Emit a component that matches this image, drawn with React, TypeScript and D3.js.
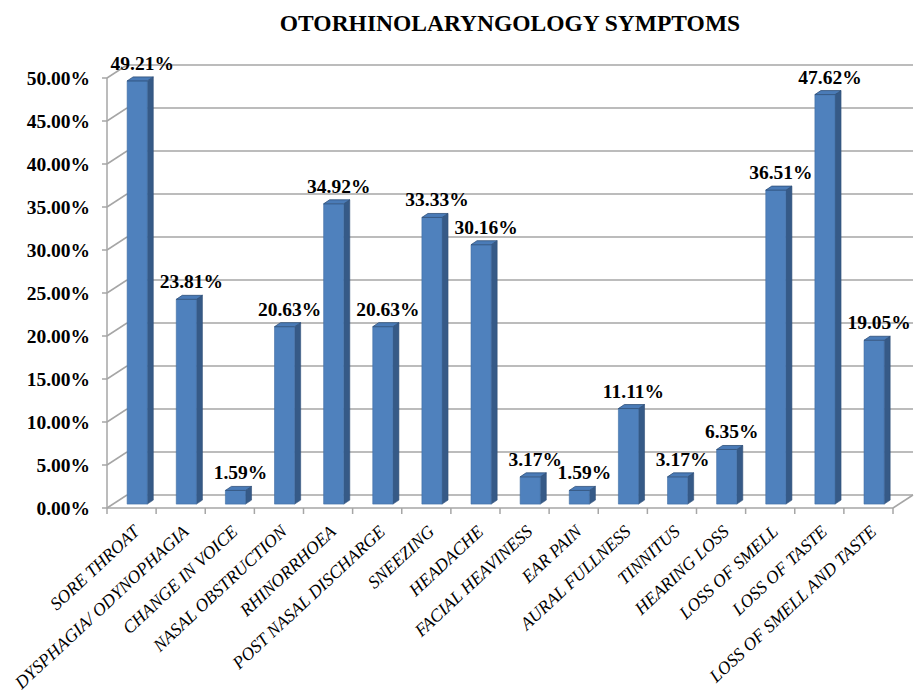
import React from "react";
import * as d3 from "d3";

const title = "OTORHINOLARYNGOLOGY SYMPTOMS";
const categories = [
  "SORE THROAT",
  "DYSPHAGIA/ ODYNOPHAGIA",
  "CHANGE IN VOICE",
  "NASAL OBSTRUCTION",
  "RHINORRHOEA",
  "POST NASAL DISCHARGE",
  "SNEEZING",
  "HEADACHE",
  "FACIAL HEAVINESS",
  "EAR PAIN",
  "AURAL FULLNESS",
  "TINNITUS",
  "HEARING LOSS",
  "LOSS OF SMELL",
  "LOSS OF TASTE",
  "LOSS OF SMELL AND TASTE",
];
const values = [49.21, 23.81, 1.59, 20.63, 34.92, 20.63, 33.33, 30.16, 3.17, 1.59, 11.11, 3.17, 6.35, 36.51, 47.62, 19.05];
const yTicks = [0, 5, 10, 15, 20, 25, 30, 35, 40, 45, 50];

const W = 919;
const H = 697;
const left = 107;
const right = 893;
const floorY = 508;
const topY = 78;
const DX = 20; // depth offset
const DY = -13;

export default function App() {
  const x = d3.scaleBand<string>().domain(categories).range([left, right]).padding(0);
  const y = d3.scaleLinear().domain([0, 50]).range([floorY, topY]);
  const step = x.step();
  const barW = step * 0.41;
  const barOff = step * 0.41;
  const bdy = DY * 0.3;
  const sdx = 6;
  const sdy = -4;
  const grid = "#a6a6a6";
  const fmt = (v: number) => v.toFixed(2) + "%";

  return (
    <svg
      width={W}
      height={H}
      style={{ position: "absolute", left: 0, top: 0, background: "#fff" }}
      fontFamily="'Liberation Serif', 'Times New Roman', serif"
    >
      <rect x={0} y={0} width={W} height={H} fill="#fff" />
      <text x={510} y={31} textAnchor="middle" fontSize={23.5} fontWeight="bold" fill="#000">
        {title}
      </text>

      {/* back wall gridlines and side wall diagonals */}
      {yTicks.map((t) => (
        <g key={"g" + t}>
          <line x1={left} y1={y(t)} x2={left + DX} y2={y(t) + DY} stroke={grid} strokeWidth={1.5} />
          <line x1={left + DX} y1={y(t) + DY} x2={right + DX} y2={y(t) + DY} stroke={grid} strokeWidth={1.5} />
        </g>
      ))}
      {/* floor */}
      <line x1={left} y1={floorY} x2={right} y2={floorY} stroke={grid} strokeWidth={1.5} />
      <line x1={right} y1={floorY} x2={right + DX} y2={floorY + DY} stroke={grid} strokeWidth={1.5} />
      {/* y axis */}
      <line x1={left} y1={topY} x2={left} y2={floorY} stroke={grid} strokeWidth={1.5} />
      {yTicks.map((t) => (
        <g key={"t" + t}>
          <line x1={left - 5} y1={y(t)} x2={left} y2={y(t)} stroke={grid} strokeWidth={1.5} />
          <text x={90} y={y(t)} dy="0.36em" textAnchor="end" fontSize={19.5} fontWeight="bold" fill="#000">
            {fmt(t)}
          </text>
        </g>
      ))}
      {/* x ticks */}
      {categories.concat([""]).map((c, i) => {
        const xx = left + i * step;
        return <line key={"xt" + i} x1={xx} y1={floorY} x2={xx} y2={floorY + 6} stroke={grid} strokeWidth={1.5} />;
      })}

      {/* bars */}
      {categories.map((c, i) => {
        const v = values[i];
        const x0 = (x(c) as number) + barOff;
        const x1 = x0 + barW;
        const yb = floorY + bdy;
        const yt = y(v) + bdy;
        const front = `M${x0},${yb}L${x1},${yb}L${x1},${yt}L${x0},${yt}Z`;
        const side = `M${x1},${yb}L${x1 + sdx},${yb + sdy}L${x1 + sdx},${yt + sdy}L${x1},${yt}Z`;
        const top = `M${x0},${yt}L${x1},${yt}L${x1 + sdx},${yt + sdy}L${x0 + sdx},${yt + sdy}Z`;
        return (
          <g key={"b" + i}>
            <path d={side} fill="#365a87" stroke="#2f4f78" strokeWidth={0.6} />
            <path d={front} fill="#4f81bd" stroke="#3f6da3" strokeWidth={0.6} />
            <path d={top} fill="#4a7bb7" stroke="#2f4f78" strokeWidth={0.8} />
          </g>
        );
      })}

      {/* data labels */}
      {categories.map((c, i) => {
        const v = values[i];
        const cx = (x(c) as number) + barOff + barW / 2 + 5;
        const ty = y(v) + bdy + sdy - 7;
        return (
          <text key={"l" + i} x={cx} y={ty} textAnchor="middle" fontSize={19.5} fontWeight="bold" fill="#000">
            {fmt(v)}
          </text>
        );
      })}

      {/* category labels */}
      {categories.map((c) => {
        const cx = (x(c) as number) + step / 2 + 9;
        const cy = floorY + 25;
        return (
          <text
            key={"c" + c}
            x={cx}
            y={cy}
            textAnchor="end"
            fontSize={17.8}
            fontStyle="italic"
            fill="#000"
            transform={`rotate(-43 ${cx} ${cy})`}
          >
            {c}
          </text>
        );
      })}
    </svg>
  );
}
